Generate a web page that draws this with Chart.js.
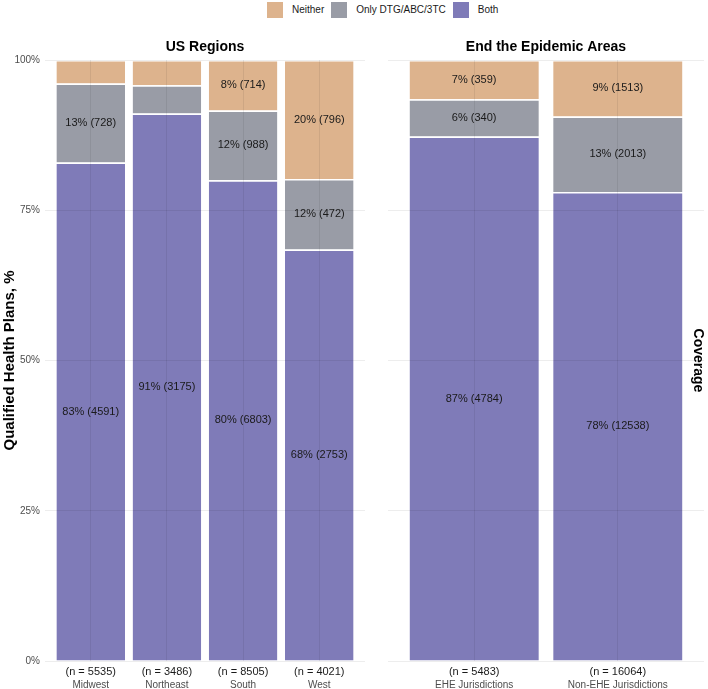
<!DOCTYPE html>
<html>
<head>
<meta charset="utf-8">
<script src="https://cdn.jsdelivr.net/npm/chart.js@4.4.1/dist/chart.umd.min.js"></script>
<style>
  html, body { margin: 0; padding: 0; background: #fff; }
  #wrap { position: relative; width: 708px; height: 689px; overflow: hidden; font-family: "Liberation Sans", Arial, sans-serif; }
  #leftChart { position: absolute; left: 0; top: 0; }
  #rightChart { position: absolute; left: 372px; top: 0; }
  #legend { position: absolute; top: 1px; left: 267px; display: flex; align-items: center; height: 17px; font-size: 10px; color: #1a1a1a; }
  .item { display: flex; align-items: center; margin-right: 7px; }
  .swatch { width: 16px; height: 16px; margin-right: 9px; }
</style>
</head>
<body>
<div id="wrap">
  <div id="legend"></div>
  <canvas id="leftChart" width="372" height="689"></canvas>
  <canvas id="rightChart" width="336" height="689"></canvas>
</div>
<script>
// counts per coverage group
const regionLabels = ['Midwest', 'Northeast', 'South', 'West'];
const regionBoth = [4591, 3175, 6803, 2753];
const regionOnly = [728, 165, 988, 472];
const regionNeither = [216, 146, 714, 796];

const areaLabels = ['EHE Jurisdictions', 'Non-EHE Jurisdictions'];
const areaBoth = [4784, 12538];
const areaOnly = [340, 2013];
const areaNeither = [359, 1513];

const yTicks = [0, 25, 50, 75, 100];
const coverageNames = ['Neither', 'Only DTG/ABC/3TC', 'Both'];
const coverageColors = ['#DDB38D', '#999CA6', '#7F7BB8'];

const FONT = '"Liberation Sans", Arial, sans-serif';
Chart.defaults.font.family = FONT;

// legend on top
const legendEl = document.getElementById('legend');
coverageNames.forEach((name, i) => {
    const item = document.createElement('div');
    item.className = 'item';
    item.innerHTML = '<div class="swatch" style="background:' + coverageColors[i] + '"></div><span>' + name + '</span>';
    legendEl.appendChild(item);
});

function buildDatasets(both, only, neither) {
    const totals = both.map((v, i) => v + only[i] + neither[i]);
    const toPoints = arr => arr.map((v, i) => ({x: i + 1, y: v / totals[i] * 100}));
    const groups = [[both, 2], [only, 1], [neither, 0]]; // stacked bottom -> top
    return {
        totals: totals,
        datasets: groups.map(([arr, c]) => ({
            label: coverageNames[c],
            data: toPoints(arr),
            counts: arr,
            backgroundColor: coverageColors[c],
            borderColor: '#ffffff',
            borderWidth: {top: 1.5, left: 0, right: 0, bottom: 0},
            borderSkipped: 'start',
            barPercentage: 0.9,
            categoryPercentage: 1.0
        }))
    };
}

const facetLabels = {
    id: 'facetLabels',
    afterDatasetsDraw(chart, args, opts) {
        const ctx = chart.ctx;
        const area = chart.chartArea;
        ctx.save();
        ctx.textAlign = 'center';
        ctx.textBaseline = 'middle';
        ctx.fillStyle = '#1a1a1a';
        ctx.font = '11px ' + FONT;
        chart.data.datasets.forEach((ds, di) => {
            chart.getDatasetMeta(di).data.forEach((bar, i) => {
                const pct = ds.data[i].y;
                if (pct < 5) return;
                ctx.fillText(Math.round(pct) + '% (' + ds.counts[i] + ')', bar.x, (bar.y + bar.base) / 2);
            });
        });
        // n under each bar
        chart.getDatasetMeta(0).data.forEach((bar, i) => {
            ctx.fillText('(n = ' + opts.totals[i] + ')', bar.x, area.bottom + 11);
        });
        // strip title
        ctx.fillStyle = '#000';
        ctx.font = 'bold 14px ' + FONT;
        ctx.fillText(opts.title, (area.left + area.right) / 2, area.top - 13);
        if (opts.sideTitle) {
            ctx.translate(chart.width - 10, (area.top + area.bottom) / 2);
            ctx.rotate(Math.PI / 2);
            ctx.fillText(opts.sideTitle, 0, 0);
        }
        ctx.restore();
    }
};

function makeChart(canvasId, labels, built, title, yWidth, padRight, showY, sideTitle) {
    return new Chart(document.getElementById(canvasId), {
        type: 'bar',
        data: {datasets: built.datasets},
        options: {
            responsive: false,
            animation: false,
            layout: {padding: {top: 60, right: padRight, bottom: 0, left: 0}},
            plugins: {
                legend: {display: false},
                tooltip: {enabled: false},
                facetLabels: {title: title, totals: built.totals, sideTitle: sideTitle}
            },
            scales: {
                x: {
                    type: 'linear',
                    stacked: true,
                    min: 0.4,
                    max: labels.length + 0.6,
                    offset: false,
                    border: {display: false},
                    grid: {color: 'rgba(0,0,0,0.07)', offset: false, drawTicks: false, z: 1},
                    afterBuildTicks(scale) { scale.ticks = labels.map((l, i) => ({value: i + 1})); },
                    ticks: {
                        color: '#4D4D4D',
                        font: {size: 10},
                        padding: 18,
                        callback: v => labels[v - 1]
                    },
                    afterFit(scale) { scale.height = 28; }
                },
                y: {
                    stacked: true,
                    min: 0,
                    max: 100,
                    border: {display: false},
                    grid: {color: 'rgba(0,0,0,0.07)', drawTicks: false, z: 1},
                    afterBuildTicks(scale) { scale.ticks = yTicks.map(v => ({value: v})); },
                    ticks: {
                        display: showY,
                        color: '#4D4D4D',
                        font: {size: 10},
                        padding: 5,
                        callback: v => v + '%'
                    },
                    title: {
                        display: showY,
                        text: 'Qualified Health Plans, %',
                        color: '#000',
                        font: {size: 15, weight: 'bold'},
                        padding: {top: 1, bottom: 0}
                    },
                    afterFit(scale) { scale.width = yWidth; }
                }
            }
        },
        plugins: [facetLabels]
    });
}

makeChart('leftChart', regionLabels, buildDatasets(regionBoth, regionOnly, regionNeither), 'US Regions', 45, 7, true, null);
makeChart('rightChart', areaLabels, buildDatasets(areaBoth, areaOnly, areaNeither), 'End the Epidemic Areas', 16, 4, false, 'Coverage');
</script>
</body>
</html>
